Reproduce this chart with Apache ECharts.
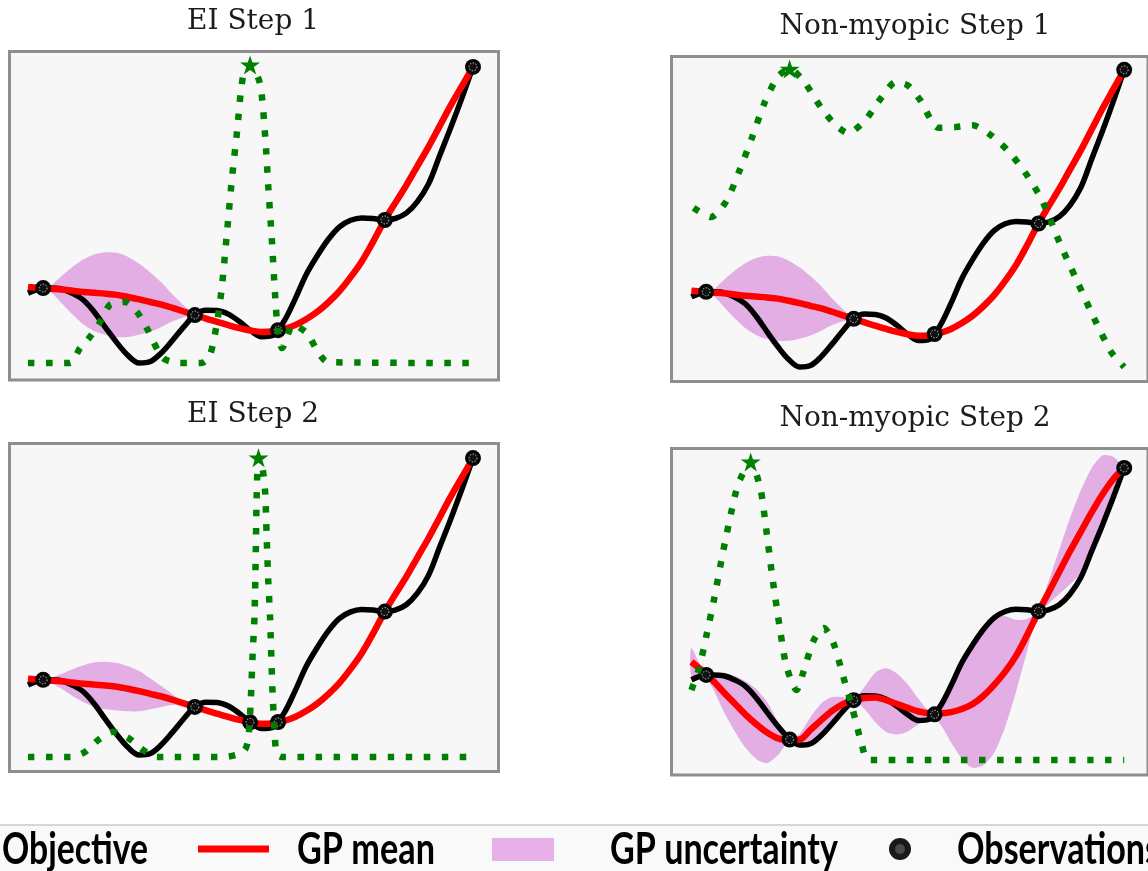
<!DOCTYPE html>
<html>
<head>
<meta charset="utf-8">
<script src="https://cdn.jsdelivr.net/npm/echarts@6/dist/echarts.min.js"></script>
<style>
  html, body { margin: 0; padding: 0; background: #ffffff; }
  #chart { width: 1148px; height: 871px; }
</style>
</head>
<body>
<div id="chart"></div>
<script>
// Shared input grid on [0, 1]
const xs = [0, 0.025, 0.05, 0.075, 0.1, 0.125, 0.15, 0.175, 0.2, 0.225,
            0.25, 0.275, 0.3, 0.325, 0.35, 0.375, 0.4, 0.425, 0.45, 0.475,
            0.5, 0.525, 0.55, 0.575, 0.6, 0.625, 0.65, 0.675, 0.7, 0.725,
            0.75, 0.775, 0.8, 0.825, 0.85, 0.875, 0.9, 0.925, 0.95, 0.975, 1.0];

// True objective f(x)
const objective = [0.236, 0.25, 0.253, 0.25, 0.235, 0.212, 0.17, 0.118, 0.068, 0.025,
                   0.0, 0.005, 0.035, 0.077, 0.122, 0.162, 0.178, 0.177, 0.165, 0.14,
                   0.11, 0.089, 0.093, 0.14, 0.215, 0.298, 0.362, 0.418, 0.46, 0.482,
                   0.49, 0.488, 0.483, 0.488, 0.506, 0.545, 0.605, 0.7, 0.795, 0.895, 1.0];

// GP posterior after the first five observations (step 1 panels, EI step 2)
const meanStep1 = [0.257, 0.254, 0.251, 0.248, 0.244, 0.24, 0.237, 0.234, 0.23, 0.223,
                   0.215, 0.206, 0.197, 0.186, 0.174, 0.162, 0.15, 0.139, 0.128, 0.118,
                   0.11, 0.105, 0.107, 0.115, 0.128, 0.148, 0.173, 0.205, 0.243, 0.29,
                   0.343, 0.408, 0.478, 0.54, 0.6, 0.665, 0.73, 0.8, 0.87, 0.935, 1.0];
const sdStep1 = [0.005, 0.001, 0.01, 0.045, 0.08, 0.11, 0.13, 0.14, 0.142, 0.135,
                 0.12, 0.1, 0.075, 0.045, 0.02, 0, 0.002, 0.004, 0.005, 0.005,
                 0.004, 0.002, 0.001, 0.002, 0.006, 0.01, 0.014, 0.016, 0.015, 0.012,
                 0.008, 0.004, 0, 0.002, 0.004, 0.005, 0.005, 0.004, 0.003, 0.001, 0];
const sdEIStep2 = [0.004, 0.001, 0.008, 0.025, 0.045, 0.062, 0.075, 0.08, 0.08, 0.076,
                   0.068, 0.052, 0.035, 0.018, 0.006, 0, 0, 0, 0, 0,
                   0, 0, 0, 0, 0, 0, 0, 0, 0, 0,
                   0, 0, 0, 0, 0, 0, 0, 0, 0, 0, 0];

// GP posterior after the non-myopic step 1 query
const meanNMStep2 = [0.30, 0.268, 0.232, 0.19, 0.15, 0.11, 0.075, 0.045, 0.024, 0.018,
                     0.02, 0.055, 0.09, 0.123, 0.148, 0.162, 0.17, 0.172, 0.162, 0.148,
                     0.134, 0.121, 0.115, 0.115, 0.119, 0.13, 0.148, 0.178, 0.218, 0.265,
                     0.322, 0.395, 0.475, 0.55, 0.625, 0.7, 0.77, 0.84, 0.905, 0.96, 1.0];
const sdNMStep2 = [0.05, 0.01, 0.03, 0.07, 0.1, 0.12, 0.126, 0.11, 0.06, 0.005,
                   0.02, 0.045, 0.06, 0.05, 0.025, 0, 0.04, 0.09, 0.115, 0.11,
                   0.085, 0.045, 0.01, 0.04, 0.11, 0.18, 0.23, 0.25, 0.245, 0.2,
                   0.13, 0.06, 0.005, 0.04, 0.08, 0.12, 0.15, 0.16, 0.14, 0.08, 0];

// Observations
const obsStep1X = [0.034, 0.375, 0.562, 0.802, 1.0];
const obsStep1Y = [0.253, 0.162, 0.111, 0.483, 1.0];
const obsEIStep2X = [0.034, 0.375, 0.499, 0.562, 0.802, 1.0];
const obsEIStep2Y = [0.253, 0.162, 0.11, 0.111, 0.483, 1.0];
const obsNMStep2X = [0.034, 0.227, 0.375, 0.562, 0.802, 1.0];
const obsNMStep2Y = [0.253, 0.02, 0.162, 0.111, 0.483, 1.0];

// Acquisition functions (normalised to their maximum)
const eiStep1X = [0.0, 0.094, 0.117, 0.139, 0.162, 0.184, 0.218, 0.245, 0.267, 0.303,
                  0.34, 0.39, 0.409, 0.425, 0.436, 0.447, 0.458, 0.47, 0.483, 0.499,
                  0.521, 0.533, 0.54, 0.548, 0.555, 0.562, 0.571, 0.596, 0.627, 0.649, 0.674, 1.0];
const eiStep1Y = [0, 0, 0.05, 0.087, 0.138, 0.195, 0.205, 0.171, 0.117, 0.017,
                  0, 0, 0.027, 0.138, 0.26, 0.436, 0.614, 0.78, 0.96, 1.0,
                  0.94, 0.76, 0.59, 0.413, 0.235, 0.1, 0.05, 0.128, 0.1, 0.044, 0.003, 0];
const nmStep1X = [0.005, 0.045, 0.08, 0.11, 0.14, 0.17, 0.2, 0.227, 0.26, 0.3,
                  0.333, 0.362, 0.4, 0.44, 0.472, 0.5, 0.53, 0.57, 0.61, 0.65,
                  0.69, 0.73, 0.77, 0.81, 0.85, 0.89, 0.93, 0.97, 1.0];
const nmStep1Y = [0.534, 0.503, 0.555, 0.655, 0.77, 0.89, 0.975, 1.0, 0.958, 0.87,
                  0.812, 0.785, 0.825, 0.906, 0.956, 0.945, 0.893, 0.803, 0.805, 0.811,
                  0.78, 0.728, 0.655, 0.56, 0.42, 0.292, 0.165, 0.05, 0.0];
const eiStep2X = [0.0, 0.095, 0.128, 0.158, 0.191, 0.225, 0.259, 0.29, 0.44, 0.475,
                  0.488, 0.495, 0.5, 0.505, 0.509, 0.512, 0.514, 0.518, 0.526, 0.533,
                  0.536, 0.54, 0.544, 0.549, 0.555, 0.559, 0.57, 1.0];
const eiStep2Y = [0, 0, 0.017, 0.057, 0.084, 0.064, 0.023, 0, 0, 0.01,
                  0.025, 0.06, 0.17, 0.35, 0.47, 0.7, 0.88, 1.0, 0.975, 0.883,
                  0.75, 0.586, 0.465, 0.235, 0.06, 0.01, 0, 0];
const nmStep2X = [0.0, 0.018, 0.034, 0.052, 0.074, 0.1, 0.112, 0.137, 0.16, 0.171,
                  0.187, 0.205, 0.22, 0.243, 0.258, 0.283, 0.306, 0.328, 0.351, 0.373,
                  0.393, 0.41, 1.0];
const nmStep2Y = [0.235, 0.309, 0.413, 0.537, 0.705, 0.883, 0.94, 1.0, 0.906, 0.795,
                  0.614, 0.436, 0.312, 0.235, 0.292, 0.403, 0.443, 0.393, 0.279, 0.168,
                  0.057, 0.0, 0.0];

const panelTitles = ['EI Step 1', 'Non-myopic Step 1', 'EI Step 2', 'Non-myopic Step 2'];
const legendLabels = ['Objective', 'GP mean', 'GP uncertainty', 'Observations'];

// Panel layout and per-panel axis extents
const panels = [
  { title: panelTitles[0], titlePos: [253, 22],
    grid: { left: 9.5, top: 51.5, width: 489, height: 328.5 },
    x: [-0.0416, 1.0573], y: [-0.0574, 1.052], acq: [-0.057, 1.045],
    mean: meanStep1, sd: sdStep1, acqX: eiStep1X, acqY: eiStep1Y,
    obsX: obsStep1X, obsY: obsStep1Y },
  { title: panelTitles[1], titlePos: [915, 27],
    grid: { left: 671.5, top: 56.5, width: 490, height: 325 },
    x: [-0.046, 1.055], y: [-0.0488, 1.045], acq: [-0.0487, 1.042],
    mean: meanStep1, sd: sdStep1, acqX: nmStep1X, acqY: nmStep1Y,
    obsX: obsStep1X, obsY: obsStep1Y },
  { title: panelTitles[2], titlePos: [253, 415],
    grid: { left: 9.5, top: 443.5, width: 489, height: 328 },
    x: [-0.0416, 1.0573], y: [-0.0556, 1.049], acq: [-0.0485, 1.048],
    mean: meanStep1, sd: sdEIStep2, acqX: eiStep2X, acqY: eiStep2Y,
    obsX: obsEIStep2X, obsY: obsEIStep2Y },
  { title: panelTitles[3], titlePos: [915, 419],
    grid: { left: 671.5, top: 448.5, width: 490, height: 326.5 },
    x: [-0.046, 1.055], y: [-0.108, 1.07], acq: [-0.05, 1.045],
    mean: meanNMStep2, sd: sdNMStep2, acqX: nmStep2X, acqY: nmStep2Y,
    obsX: obsNMStep2X, obsY: obsNMStep2Y }
];

const BAND = '#e3aee3';
const GREEN = '#008000';
const STAR = 'path://M12,0 L14.8,8.6 L24,8.6 L16.6,14 L19.4,22.8 L12,17.4 L4.6,22.8 L7.4,14 L0,8.6 L9.2,8.6 Z';

const grids = [], xAxes = [], yAxes = [], series = [];

panels.forEach(function (p, i) {
  grids.push(Object.assign({
    show: true, backgroundColor: '#f7f7f7', borderColor: '#8e8e8e', borderWidth: 3
  }, p.grid));
  xAxes.push({ type: 'value', gridIndex: i, min: p.x[0], max: p.x[1], show: false });
  yAxes.push({ type: 'value', gridIndex: i, min: p.y[0], max: p.y[1], show: false });
  yAxes.push({ type: 'value', gridIndex: i, min: p.acq[0], max: p.acq[1], show: false });
  const yMain = 2 * i, yAcq = 2 * i + 1;

  // GP uncertainty band: mean ± sd as one filled polygon
  series.push({
    type: 'custom', xAxisIndex: i, yAxisIndex: yMain, z: 1, silent: true,
    data: [[0.5, 0.5]],
    renderItem: function (params, api) {
      const upper = [], lower = [];
      for (let k = 0; k < xs.length; k++) {
        upper.push(api.coord([xs[k], p.mean[k] + p.sd[k]]));
        lower.push(api.coord([xs[k], p.mean[k] - p.sd[k]]));
      }
      return {
        type: 'polygon',
        shape: { points: upper.concat(lower.reverse()), smooth: 0.25 },
        style: { fill: BAND }
      };
    }
  });

  // Objective
  series.push({
    type: 'line', xAxisIndex: i, yAxisIndex: yMain, z: 2, silent: true,
    data: xs.map(function (x, k) { return [x, objective[k]]; }),
    smooth: 0.35, showSymbol: false,
    lineStyle: { color: '#000000', width: 5.5 }
  });

  // GP mean
  series.push({
    type: 'line', xAxisIndex: i, yAxisIndex: yMain, z: 3, silent: true,
    data: xs.map(function (x, k) { return [x, p.mean[k]]; }),
    smooth: 0.35, showSymbol: false,
    lineStyle: { color: '#ff0000', width: 6.5 }
  });

  // Observations: black disc with a faint inner ring
  const obsData = p.obsX.map(function (x, k) { return [x, p.obsY[k]]; });
  series.push({
    type: 'scatter', xAxisIndex: i, yAxisIndex: yMain, z: 4, silent: true,
    data: obsData, symbol: 'circle', symbolSize: 16,
    itemStyle: { color: '#050505', opacity: 1 }
  });
  series.push({
    type: 'scatter', xAxisIndex: i, yAxisIndex: yMain, z: 5, silent: true,
    data: obsData, symbol: 'circle', symbolSize: 8,
    itemStyle: { color: '#111111', borderColor: 'rgba(255,255,255,0.75)', borderWidth: 1, borderType: [1.5, 1.5], opacity: 1 }
  });

  // Acquisition function (dotted)
  series.push({
    type: 'line', xAxisIndex: i, yAxisIndex: yAcq, z: 6, silent: true,
    data: p.acqX.map(function (x, k) { return [x, p.acqY[k]]; }),
    smooth: 0.25, showSymbol: false,
    lineStyle: { color: GREEN, width: 6.5, type: [6.5, 11.5], cap: 'butt' }
  });

  // Star at the acquisition maximum
  let best = 0;
  for (let k = 1; k < p.acqY.length; k++) if (p.acqY[k] > p.acqY[best]) best = k;
  series.push({
    type: 'scatter', xAxisIndex: i, yAxisIndex: yAcq, z: 7, silent: true,
    data: [[p.acqX[best], p.acqY[best]]],
    symbol: STAR, symbolSize: [20, 19],
    itemStyle: { color: GREEN, opacity: 1 }
  });
});

// Text fitting helper for the condensed bold legend labels
const measureCtx = document.createElement('canvas').getContext('2d');
function fitScale(text, font, width) {
  measureCtx.font = font;
  return width / measureCtx.measureText(text).width;
}

const titleFont = '28px "DejaVu Serif"';
const legendFont = 'bold 41px Lato';
const graphics = [];

panels.forEach(function (p) {
  graphics.push({
    type: 'text', x: p.titlePos[0], y: p.titlePos[1], silent: true,
    style: { text: p.title, font: titleFont, fill: '#1c1c1c', align: 'center', verticalAlign: 'middle' }
  });
});

// Legend strip
graphics.push({ type: 'rect', silent: true, shape: { x: 0, y: 825, width: 1148, height: 46 }, style: { fill: '#f9f9f9' } });
graphics.push({ type: 'line', silent: true, shape: { x1: 0, y1: 825, x2: 1148, y2: 825 }, style: { stroke: '#d6d6d6', lineWidth: 2 } });
graphics.push({ type: 'line', silent: true, shape: { x1: 198, y1: 849, x2: 269, y2: 849 }, style: { stroke: '#ff0000', lineWidth: 7 } });
graphics.push({ type: 'rect', silent: true, shape: { x: 492, y: 838, width: 62, height: 23 }, style: { fill: '#e8b0e8' } });
graphics.push({ type: 'circle', silent: true, shape: { cx: 900, cy: 849, r: 11 }, style: { fill: '#1a1a1a' } });
graphics.push({ type: 'circle', silent: true, shape: { cx: 900, cy: 849, r: 5 }, style: { fill: '#4a4a4a' } });

const legendItems = [
  { text: legendLabels[0], x: 2, w: 146 },
  { text: legendLabels[1], x: 297, w: 138 },
  { text: legendLabels[2], x: 610, w: 228 },
  { text: legendLabels[3], x: 957, w: 0 }
];
const refScale = fitScale(legendLabels[2], legendFont, 228);
legendItems.forEach(function (it) {
  const s = it.w ? fitScale(it.text, legendFont, it.w) : refScale;
  graphics.push({
    type: 'text', x: it.x, y: 850, scaleX: s, scaleY: 1.05, silent: true,
    style: { text: it.text, font: legendFont, fill: '#000000', align: 'left', verticalAlign: 'middle' }
  });
});

const chart = echarts.init(document.getElementById('chart'), null, { renderer: 'canvas' });
chart.setOption({
  animation: false,
  backgroundColor: '#ffffff',
  grid: grids,
  xAxis: xAxes,
  yAxis: yAxes,
  series: series,
  graphic: graphics
});
</script>
</body>
</html>
